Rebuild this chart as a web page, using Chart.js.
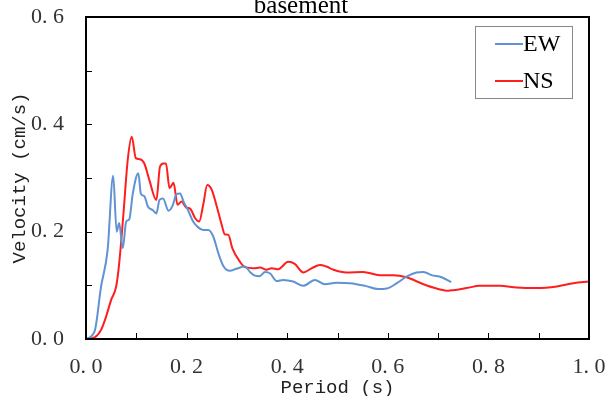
<!DOCTYPE html>
<html>
<head>
<meta charset="utf-8">
<script src="https://cdn.jsdelivr.net/npm/chart.js@4.4.0/dist/chart.umd.min.js"></script>
<style>
  html, body { margin: 0; padding: 0; background: #fff; }
</style>
</head>
<body>
<canvas id="chart" width="608" height="396"></canvas>
<script>
/* response spectrum - basement, EW / NS velocity */

const chartTitle = 'basement';

const ewPeriod = [0, 0.017, 0.030, 0.043, 0.054, 0.061, 0.066, 0.073, 0.080, 0.086, 0.093, 0.104,
  0.109, 0.116, 0.123, 0.133, 0.140, 0.146, 0.153, 0.164, 0.172, 0.180, 0.187, 0.194, 0.203, 0.213,
  0.223, 0.233, 0.243, 0.253, 0.263, 0.273, 0.286, 0.299, 0.316, 0.326, 0.336, 0.345, 0.356, 0.366,
  0.379, 0.392, 0.412, 0.432, 0.455, 0.475, 0.498, 0.525, 0.555, 0.581, 0.598, 0.618, 0.637, 0.657,
  0.671, 0.687, 0.707, 0.726];
const ewVelocity = [0, 0.014, 0.098, 0.166, 0.304, 0.200, 0.216, 0.169, 0.219, 0.223, 0.271, 0.309,
  0.271, 0.266, 0.247, 0.240, 0.234, 0.259, 0.262, 0.239, 0.248, 0.270, 0.271, 0.256, 0.240, 0.219,
  0.208, 0.203, 0.203, 0.191, 0.160, 0.136, 0.127, 0.131, 0.135, 0.125, 0.118, 0.117, 0.125, 0.122,
  0.108, 0.110, 0.107, 0.099, 0.110, 0.102, 0.105, 0.104, 0.099, 0.093, 0.094, 0.104, 0.116, 0.124,
  0.125, 0.119, 0.115, 0.106];

const nsPeriod = [0, 0.017, 0.030, 0.040, 0.050, 0.060, 0.066, 0.074, 0.083, 0.091, 0.099, 0.107,
  0.116, 0.126, 0.140, 0.147, 0.154, 0.159, 0.166, 0.174, 0.182, 0.190, 0.199, 0.207, 0.217, 0.225,
  0.233, 0.241, 0.250, 0.260, 0.270, 0.276, 0.283, 0.291, 0.306, 0.316, 0.333, 0.346, 0.359, 0.369,
  0.382, 0.402, 0.415, 0.432, 0.449, 0.465, 0.478, 0.492, 0.518, 0.551, 0.584, 0.611, 0.637, 0.671,
  0.697, 0.720, 0.730, 0.757, 0.783, 0.823, 0.856, 0.896, 0.936, 0.969, 1.0];
const nsVelocity = [0, 0.003, 0.017, 0.042, 0.073, 0.098, 0.141, 0.228, 0.334, 0.377, 0.337, 0.335,
  0.327, 0.296, 0.259, 0.321, 0.327, 0.327, 0.281, 0.291, 0.250, 0.256, 0.245, 0.243, 0.225, 0.219,
  0.250, 0.287, 0.278, 0.247, 0.212, 0.195, 0.194, 0.169, 0.144, 0.134, 0.132, 0.133, 0.129, 0.132,
  0.130, 0.144, 0.140, 0.124, 0.132, 0.138, 0.135, 0.129, 0.124, 0.125, 0.119, 0.119, 0.115, 0.102,
  0.094, 0.090, 0.091, 0.095, 0.099, 0.099, 0.096, 0.095, 0.098, 0.104, 0.107];

const xMinorTicks = [0.1, 0.2, 0.3, 0.4, 0.5, 0.6, 0.7, 0.8, 0.9];
const yMinorTicks = [0.1, 0.2, 0.3, 0.4, 0.5];

const toPoints = (xs, ys) => xs.map((x, i) => ({ x: x, y: ys[i] }));
const fmtTick = v => v.toFixed(1).replace('.', '. ');

// frame, inner tick marks, cut-off title and boxed legend
const framePlugin = {
  id: 'frame',
  afterDraw(chart) {
    const { ctx, chartArea: a, scales } = chart;
    ctx.save();

    ctx.strokeStyle = '#000';
    ctx.lineWidth = 1;
    ctx.beginPath();
    xMinorTicks.forEach(v => {
      const px = Math.round(scales.x.getPixelForValue(v)) + 0.5;
      ctx.moveTo(px, a.bottom);
      ctx.lineTo(px, a.bottom - 6);
    });
    yMinorTicks.forEach(v => {
      const py = Math.round(scales.y.getPixelForValue(v)) + 0.5;
      ctx.moveTo(a.left, py);
      ctx.lineTo(a.left + 6, py);
    });
    ctx.stroke();

    ctx.lineWidth = 2;
    ctx.strokeRect(a.left, a.top, a.right - a.left, a.bottom - a.top);

    // title, partly above the canvas like the original
    ctx.fillStyle = '#000';
    ctx.font = '25px "Liberation Serif"';
    ctx.textAlign = 'center';
    ctx.textBaseline = 'alphabetic';
    ctx.fillText(chartTitle, 301, 13);

    // legend
    const lx = 475, ly = 26, lw = 97, lh = 72;
    ctx.lineWidth = 1;
    ctx.strokeStyle = '#888';
    ctx.strokeRect(lx + 0.5, ly + 0.5, lw, lh);
    ctx.font = '24px "Liberation Serif"';
    ctx.textAlign = 'left';
    ctx.textBaseline = 'middle';
    chart.data.datasets.forEach((ds, i) => {
      const yy = 44 + i * 37;
      ctx.strokeStyle = ds.borderColor;
      ctx.lineWidth = 2;
      ctx.beginPath();
      ctx.moveTo(495, yy);
      ctx.lineTo(523, yy);
      ctx.stroke();
      ctx.fillStyle = '#000';
      ctx.fillText(ds.label, 523, yy + 1);
    });

    ctx.restore();
  }
};

new Chart(document.getElementById('chart'), {
  type: 'line',
  data: {
    datasets: [
      {
        label: 'EW',
        data: toPoints(ewPeriod, ewVelocity),
        borderColor: '#5F93D3',
        borderWidth: 2,
        pointRadius: 0,
        cubicInterpolationMode: 'monotone',
        fill: false
      },
      {
        label: 'NS',
        data: toPoints(nsPeriod, nsVelocity),
        borderColor: '#FF1E1E',
        borderWidth: 2,
        pointRadius: 0,
        cubicInterpolationMode: 'monotone',
        fill: false
      }
    ]
  },
  options: {
    responsive: false,
    animation: false,
    devicePixelRatio: 1,
    layout: { padding: { top: 17, right: 19, left: 0, bottom: 0 } },
    plugins: {
      legend: { display: false },
      title: { display: false },
      tooltip: { enabled: false }
    },
    scales: {
      x: {
        type: 'linear',
        min: 0,
        max: 1,
        grid: { display: false },
        border: { display: false },
        ticks: {
          stepSize: 0.2,
          padding: 7,
          color: '#333',
          font: { family: '"Liberation Serif"', size: 22 },
          callback: fmtTick
        },
        title: {
          display: true,
          text: 'Period (s)',
          color: '#222',
          font: { family: '"Liberation Mono"', size: 19 },
          padding: { top: 0, bottom: -3 }
        },
        afterFit: s => {
          s.height = 57;
          s.paddingLeft = 0;
          s.paddingRight = 0;
        }
      },
      y: {
        type: 'linear',
        min: 0,
        max: 0.6,
        grid: { display: false },
        border: { display: false },
        ticks: {
          stepSize: 0.2,
          padding: 14,
          color: '#333',
          font: { family: '"Liberation Serif"', size: 22 },
          callback: fmtTick
        },
        title: {
          display: true,
          text: 'Velocity (cm/s)',
          color: '#222',
          font: { family: '"Liberation Mono"', size: 19 },
          padding: { top: 9, bottom: 0 }
        },
        afterFit: s => {
          s.width = 86;
          s.paddingTop = 0;
          s.paddingBottom = 0;
        }
      }
    }
  },
  plugins: [framePlugin]
});
</script>
</body>
</html>
